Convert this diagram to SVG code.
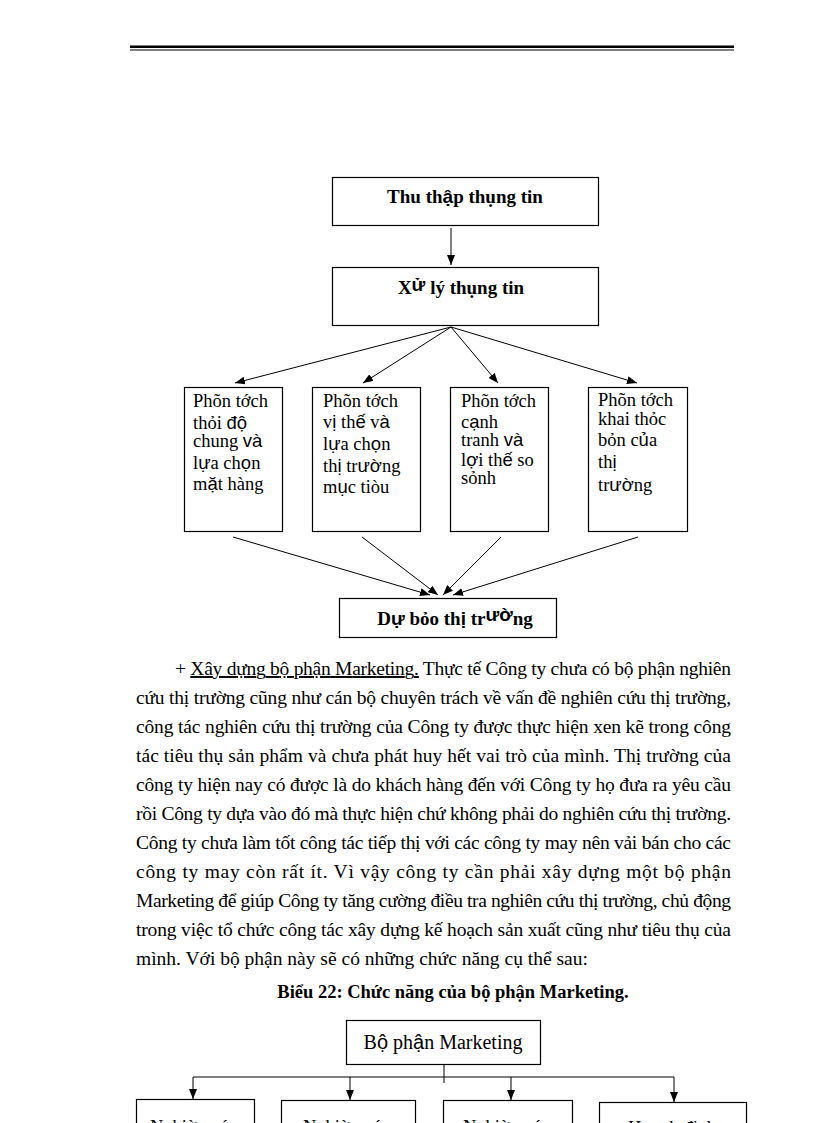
<svg xmlns="http://www.w3.org/2000/svg" width="816" height="1123" viewBox="0 0 816 1123">
<defs>
<marker id="ah" markerUnits="userSpaceOnUse" markerWidth="10" markerHeight="8" refX="10" refY="4" orient="auto">
<path d="M0,0 L10,4 L0,8 z" fill="#000"/>
</marker>
</defs>
<style>
.box{fill:#fff;stroke:#000;stroke-width:1.2}
.t{font-family:"Liberation Serif","Times New Roman",serif;fill:#000}
.s{font-family:"Liberation Sans",Arial,sans-serif}
.b{font-weight:bold}
.bt{font-size:18.5px}
.p{font-size:19.5px}
.c{stroke:#000;stroke-width:1;fill:none}
</style>
<rect width="816" height="1123" fill="#fff"/>
<g id="header">
<rect x="130" y="45.5" width="604" height="2.5" fill="#000"/>
<line x1="130" y1="50" x2="734" y2="50" stroke="#000" stroke-width="1"/>
</g>

<g id="n_thuthap">
<rect class="box" x="332.5" y="177.5" width="266" height="48"/>
<text class="t b" x="465" y="203" font-size="19" text-anchor="middle">Thu th<tspan class="s">ậ</tspan>p thụng tin</text>
</g>
<g id="n_xuly">
<rect class="box" x="332.5" y="267.5" width="266" height="58"/>
<text class="t b" x="461" y="294" font-size="19" text-anchor="middle">X<tspan class="s" dy="-3">ử</tspan><tspan dy="3"> lý thụng tin</tspan></text>
</g>

<g id="n_b1">
<rect class="box" x="184.5" y="387.5" width="98" height="144"/>
<text class="t bt" x="193" y="407">Phõn tớch</text>
<text class="t bt" x="193" y="429">thỏi <tspan class="s">độ</tspan></text>
<text class="t bt" x="193" y="447">chung <tspan class="s">và</tspan></text>
<text class="t bt" x="193" y="469">l<tspan class="s">ự</tspan>a ch<tspan class="s">ọ</tspan>n</text>
<text class="t bt" x="193" y="490">m<tspan class="s">ặ</tspan>t hàng</text>
</g>
<g id="n_b2">
<rect class="box" x="312.5" y="387.5" width="108" height="144"/>
<text class="t bt" x="323" y="407">Phõn tớch</text>
<text class="t bt" x="323" y="428">v<tspan class="s">ị</tspan> th<tspan class="s">ế</tspan> v<tspan class="s">à</tspan></text>
<text class="t bt" x="323" y="450">l<tspan class="s">ự</tspan>a ch<tspan class="s">ọ</tspan>n</text>
<text class="t bt" x="323" y="472">th<tspan class="s">ị</tspan> tr<tspan class="s">ườ</tspan>ng</text>
<text class="t bt" x="323" y="493">m<tspan class="s">ụ</tspan>c tiòu</text>
</g>
<g id="n_b3">
<rect class="box" x="450.5" y="387.5" width="98" height="144"/>
<text class="t bt" x="461" y="407">Phõn tớch</text>
<text class="t bt" x="461" y="428">c<tspan class="s">ạ</tspan>nh</text>
<text class="t bt" x="461" y="446">tranh <tspan class="s">và</tspan></text>
<text class="t bt" x="461" y="466">l<tspan class="s">ợ</tspan>i th<tspan class="s">ế</tspan> so</text>
<text class="t bt" x="461" y="484">sỏnh</text>
</g>
<g id="n_b4">
<rect class="box" x="588.5" y="387.5" width="99" height="144"/>
<text class="t bt" x="598" y="406">Phõn tớch</text>
<text class="t bt" x="598" y="425">khai thỏc</text>
<text class="t bt" x="598" y="446">bỏn c<tspan class="s">ủ</tspan>a</text>
<text class="t bt" x="598" y="468">th<tspan class="s">ị</tspan></text>
<text class="t bt" x="598" y="491">tr<tspan class="s">ườ</tspan>ng</text>
</g>

<g id="n_dubao">
<rect class="box" x="339.5" y="598.5" width="217" height="39"/>
<text class="t b" x="455" y="625" font-size="19" text-anchor="middle">D<tspan class="s">ự</tspan> bỏo th<tspan class="s">ị</tspan> tr<tspan class="s" dy="-4">ườ</tspan><tspan dy="4">ng</tspan></text>
</g>

<g id="connectors">
<line class="c" x1="451" y1="228" x2="451" y2="265" marker-end="url(#ah)"/>
<line class="c" x1="451" y1="327" x2="235" y2="383" marker-end="url(#ah)"/>
<line class="c" x1="451" y1="327" x2="363" y2="383" marker-end="url(#ah)"/>
<line class="c" x1="451" y1="327" x2="498" y2="383" marker-end="url(#ah)"/>
<line class="c" x1="451" y1="327" x2="637" y2="383" marker-end="url(#ah)"/>
<line class="c" x1="233" y1="537" x2="430" y2="595" marker-end="url(#ah)"/>
<line class="c" x1="362" y1="537" x2="438" y2="595" marker-end="url(#ah)"/>
<line class="c" x1="501" y1="537" x2="443" y2="595" marker-end="url(#ah)"/>
<line class="c" x1="638" y1="537" x2="453" y2="595" marker-end="url(#ah)"/>
<line class="c" x1="444" y1="1064" x2="444" y2="1083"/>
<line class="c" x1="193" y1="1077" x2="674" y2="1077"/>
<line class="c" x1="193" y1="1077" x2="193" y2="1099" marker-end="url(#ah)"/>
<line class="c" x1="350" y1="1077" x2="350" y2="1100" marker-end="url(#ah)"/>
<line class="c" x1="511" y1="1077" x2="511" y2="1100" marker-end="url(#ah)"/>
<line class="c" x1="674" y1="1077" x2="674" y2="1102" marker-end="url(#ah)"/>
</g>

<g id="paragraph">
<text class="t p" x="175" y="675" textLength="556" lengthAdjust="spacing">+ <tspan text-decoration="underline">Xây dựng bộ phận Marketing.</tspan> Thực tế Công ty chưa có bộ phận nghiên</text>
<text class="t p" x="136" y="704" textLength="595" lengthAdjust="spacing">cứu thị trường cũng như cán bộ chuyên trách về vấn đề nghiên cứu thị trường,</text>
<text class="t p" x="136" y="733" textLength="595" lengthAdjust="spacing">công tác nghiên cứu thị trường của Công ty được thực hiện xen kẽ trong công</text>
<text class="t p" x="136" y="762" textLength="595" lengthAdjust="spacing">tác tiêu thụ sản phẩm và chưa phát huy hết vai trò của mình. Thị trường của</text>
<text class="t p" x="136" y="791" textLength="595" lengthAdjust="spacing">công ty hiện nay có được là do khách hàng đến với Công ty họ đưa ra yêu cầu</text>
<text class="t p" x="136" y="820" textLength="595" lengthAdjust="spacing">rồi Công ty dựa vào đó mà thực hiện chứ không phải do nghiên cứu thị trường.</text>
<text class="t p" x="136" y="849" textLength="595" lengthAdjust="spacing">Công ty chưa làm tốt công tác tiếp thị với các công ty may nên vải bán cho các</text>
<text class="t p" x="136" y="878" textLength="595" lengthAdjust="spacing">công ty may còn rất ít. Vì vậy công ty cần phải xây dựng một bộ phận</text>
<text class="t p" x="136" y="907" textLength="595" lengthAdjust="spacing">Marketing để giúp Công ty tăng cường điều tra nghiên cứu thị trường, chủ động</text>
<text class="t p" x="136" y="936" textLength="595" lengthAdjust="spacing">trong việc tổ chức công tác xây dựng kế hoạch sản xuất cũng như tiêu thụ của</text>
<text class="t p" x="136" y="965">mình. Với bộ phận này sẽ có những chức năng cụ thể sau:</text>
<text class="t b" x="453" y="998" font-size="18.5" text-anchor="middle">Biểu 22: Chức năng của bộ phận Marketing.</text>
</g>

<g id="n_bpm">
<rect class="box" x="346.5" y="1020.5" width="194" height="44"/>
<text class="t" x="443" y="1049" font-size="20" text-anchor="middle">B<tspan class="s">ộ</tspan> ph<tspan class="s">ậ</tspan>n Marketing</text>
</g>
<g id="n_c1">
<rect class="box" x="136.5" y="1099.5" width="118" height="60"/>
<text class="t bt" x="150" y="1133">Nghiờn c<tspan class="s">ứ</tspan>u</text>
</g>
<g id="n_c2">
<rect class="box" x="281.5" y="1100.5" width="134" height="60"/>
<text class="t bt" x="303" y="1133">Nghiờn c<tspan class="s">ứ</tspan>u</text>
</g>
<g id="n_c3">
<rect class="box" x="443.5" y="1100.5" width="129" height="60"/>
<text class="t bt" x="463" y="1133">Nghiờn c<tspan class="s">ứ</tspan>u</text>
</g>
<g id="n_c4">
<rect class="box" x="599.5" y="1102.5" width="147" height="60"/>
<text class="t bt" x="628" y="1134">Ho<tspan class="s">ạ</tspan>ch <tspan class="s">đị</tspan>nh</text>
</g>
</svg>
